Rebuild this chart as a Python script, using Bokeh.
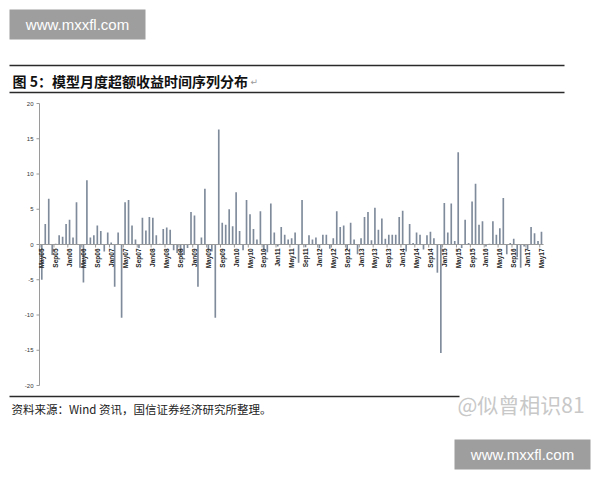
import numpy as np
from bokeh.plotting import figure
from bokeh.models import Range1d
from bokeh.core.properties import value
from bokeh.embed import file_html
from bokeh.resources import INLINE

# ---- data -------------------------------------------------------------
excess_returns = [
    -5.0, 2.9, 6.5, -1.5, 0.1, 1.3, 1.1, 2.9, 3.5, 1.0,
    6.0, -3.3, -5.4, 9.1, 1.0, 1.3, 2.7, 1.9, -1.0, 1.7,
    0.3, -6.0, 1.7, -10.4, 6.0, 6.3, 2.7, 0.7, -0.5, 3.8,
    2.0, 3.9, 3.8, 1.3, 0.1, 2.2, 2.4, 2.1, -0.8, -1.2,
    -1.5, -1.5, -0.5, 4.6, 4.1, -6.0, 1.0, 7.9, -0.7, -1.0,
    -10.4, 16.3, 3.1, 2.8, 5.0, 2.6, 7.4, 1.9, -0.8, 6.3,
    4.3, 2.2, 0.7, 4.7, -0.8, -1.1, 5.8, 1.7, -0.3, 2.5,
    1.4, 0.7, 0.9, 1.7, -2.6, 6.3, -0.4, 1.3, 0.7, 1.0,
    -0.5, 1.4, 1.4, -0.6, 0.9, 4.7, 2.5, 2.7, -0.7, 3.1,
    0.7, -1.4, 0.9, 3.9, 4.6, 0.6, 5.2, 2.1, 3.7, 0.8,
    1.4, 1.4, 1.4, 3.9, 4.8, -1.0, 2.9, 0.2, 1.7, 1.4,
    -0.7, 1.3, 1.8, 0.9, -4.0, -15.4, 5.9, 1.7, 5.8, 0.5,
    13.1, -0.5, 3.5, 0.2, 6.1, 8.6, 2.8, 3.3, -0.3, 0.1,
    3.3, 1.4, 2.3, 6.6, -1.4, 0.2, 0.8, -1.8, -3.3, -0.3,
    -0.7, 2.5, 1.6, 0.5, 1.8,
]
month_index = list(range(len(excess_returns)))

tick_labels = [
    "May-05", "Sep-05", "Jan-06", "May-06", "Sep-06", "Jan-07", "May-07",
    "Sep-07", "Jan-08", "May-08", "Sep-08", "Jan-09", "May-09", "Sep-09",
    "Jan-10", "May-10", "Sep-10", "Jan-11", "May-11", "Sep-11", "Jan-12",
    "May-12", "Sep-12", "Jan-13", "May-13", "Sep-13", "Jan-14", "May-14",
    "Sep-14", "Jan-15", "May-15", "Sep-15", "Jan-16", "May-16", "Sep-16",
    "Jan-17", "May-17",
]
tick_step = 4
y_ticks = [20, 15, 10, 5, 0, -5, -10, -15, -20]

title_text = "图 5：模型月度超额收益时间序列分布"
source_text = "资料来源：Wind 资讯，国信证券经济研究所整理。"
watermark_site = "www.mxxfl.com"
watermark_user = "@似曾相识81"

# ---- layout (page pixel geometry) -------------------------------------
W, H = 592, 472
PAGE = 1                # observed page offset of the canvas
X0, DX = 42.3, 3.47     # page x of first bar, px per month
Y0, DY = 245.0, 7.05    # page y of zero line, px per unit


def dx(sx):
    return (sx - X0) / DX


def dy(sy):
    return (Y0 - sy) / DY


p = figure(width=W, height=H,
           x_range=Range1d(dx(PAGE), dx(PAGE + W)),
           y_range=Range1d(dy(PAGE + H), dy(PAGE)),
           output_backend="svg", toolbar_location=None,
           x_axis_location=None, y_axis_location=None,
           min_border=0)
p.outline_line_color = None
p.background_fill_color = "white"
p.border_fill_color = "white"
p.xgrid.visible = False
p.ygrid.visible = False

CJK = value("Noto Sans CJK SC")
SANS = value("Liberation Sans")

# watermark boxes
for (l, t, r, b) in [(10, 10, 146, 40), (455, 440, 591, 470)]:
    p.quad(left=[dx(l)], right=[dx(r)], top=[dy(t)], bottom=[dy(b)],
           fill_color="#9e9e9e", line_color=None)
    p.text(x=[dx((l + r) / 2)], y=[dy((t + b) / 2)], text=[watermark_site],
           text_font=SANS, text_font_size="15px", text_color="white",
           text_align="center", text_baseline="middle")

# title rules and title
p.segment(x0=[dx(10), dx(10)], x1=[dx(565), dx(565)],
          y0=[dy(66), dy(93)], y1=[dy(66), dy(93)],
          line_color="#2a2a2a", line_width=1.6)
p.text(x=[dx(13)], y=[dy(81)], text=[title_text], text_font=CJK,
       text_font_style="bold", text_font_size="14px", text_color="#111111",
       text_align="left", text_baseline="middle")
p.text(x=[dx(251)], y=[dy(82)], text=["↵"], text_font=value("DejaVu Sans"),
       text_font_size="9px", text_color="#999999",
       text_align="left", text_baseline="middle")

# y axis
p.segment(x0=[dx(40)], x1=[dx(40)], y0=[y_ticks[-1]], y1=[y_ticks[0]],
          line_color="#9a9a9a", line_width=1)
p.segment(x0=[dx(37)] * len(y_ticks), x1=[dx(40)] * len(y_ticks),
          y0=y_ticks, y1=y_ticks, line_color="#9a9a9a", line_width=1)
p.text(x=[dx(34)] * len(y_ticks), y=y_ticks, text=[str(t) for t in y_ticks],
       text_font=SANS, text_font_size="6px", text_color="#333333",
       text_align="right", text_baseline="middle")

# bars
p.vbar(x=month_index, top=excess_returns, bottom=0, width=0.48,
       fill_color="#7f8b9b", line_color=None)

# zero axis line
p.segment(x0=[-0.6], x1=[len(excess_returns) - 0.4], y0=[0], y1=[0],
          line_color="#9a9a9a", line_width=1)

# category labels at the zero line
label_x = [i * tick_step for i in range(len(tick_labels))]
p.segment(x0=[x - 0.5 for x in label_x], x1=[x - 0.5 for x in label_x],
          y0=[0] * len(label_x), y1=[dy(248)] * len(label_x),
          line_color="#9a9a9a", line_width=1)
p.text(x=label_x, y=[dy(249)] * len(label_x),
       text=[t.replace("-", "") for t in tick_labels],
       angle=np.pi / 2, text_font=SANS, text_font_style="bold",
       text_font_size="6.5px", text_color="#222222",
       text_align="right", text_baseline="middle")

# source line and text
p.segment(x0=[dx(10)], x1=[dx(460)], y0=[dy(397)], y1=[dy(397)],
          line_color="#2a2a2a", line_width=1.4)
p.text(x=[dx(12)], y=[dy(409)], text=[source_text], text_font=CJK,
       text_font_size="11.5px", text_color="#222222",
       text_align="left", text_baseline="middle")
p.text(x=[dx(458)], y=[dy(404)], text=[watermark_user], text_font=CJK,
       text_font_size="21px", text_color="#c8c8c8",
       text_align="left", text_baseline="middle")

open("out.html", "w").write(file_html(p, INLINE))
